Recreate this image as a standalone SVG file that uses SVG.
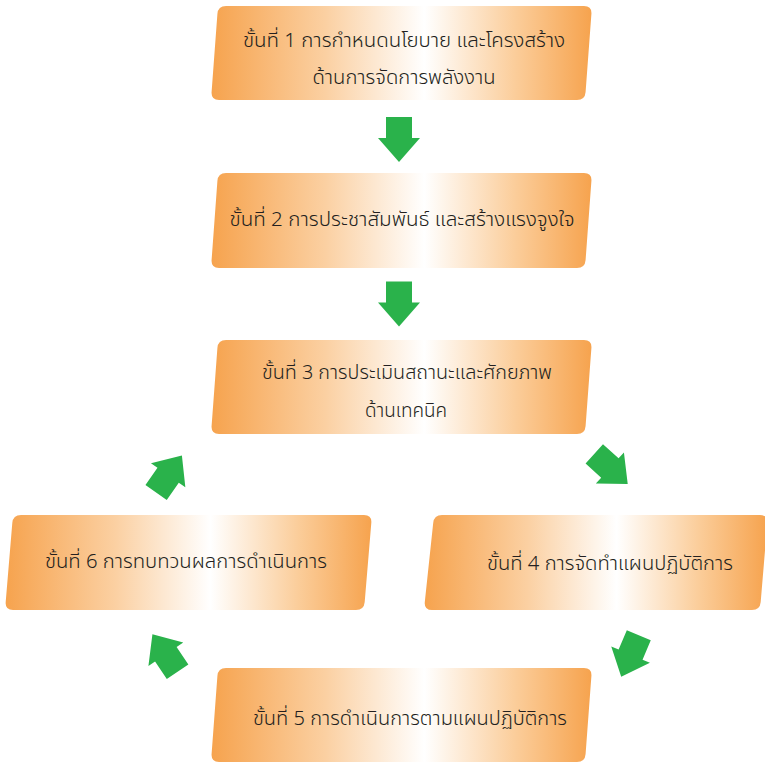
<svg xmlns="http://www.w3.org/2000/svg" width="765" height="763" viewBox="0 0 765 763">
<defs>
<linearGradient id="g" x1="0" y1="0" x2="1" y2="0">
<stop offset="0" stop-color="#F6A34E"/>
<stop offset="0.3" stop-color="#FBD0A2"/>
<stop offset="0.56" stop-color="#FFFFFF"/>
<stop offset="0.8" stop-color="#FBCD9A"/>
<stop offset="1" stop-color="#F6A34E"/>
</linearGradient>
<polygon id="arr" points="-13,-22.5 13,-22.5 13,-1.5 21,-1.5 0,22.5 -21,-1.5 -13,-1.5"/>
</defs>
<style>
.box{fill:url(#g);}
.t{font-family:"Noto Sans Thai","Noto Sans Thai UI","Noto Sans","DejaVu Sans",sans-serif;font-size:20px;font-weight:300;fill:#231F20;text-anchor:middle;}
.a{fill:#2AB24B;}
</style>
<rect width="765" height="763" fill="#FFFFFF"/>
<g id="step1">
<path class="box" d="M226,6 L584,6 Q592,6 591.4,14 L585.6,92 Q585,100 577,100 L219,100 Q211,100 211.6,92 L217.4,14 Q218,6 226,6 Z"/>
<text class="t" x="404" y="47" textLength="322" lengthAdjust="spacingAndGlyphs">ขั้นที่ 1 การกำหนดนโยบาย และโครงสร้าง</text>
<text class="t" x="404" y="84" textLength="183" lengthAdjust="spacingAndGlyphs">ด้านการจัดการพลังงาน</text>
</g>
<g id="step2">
<path class="box" d="M226,173 L584,173 Q592,173 591.4,181 L585.6,260 Q585,268 577,268 L219,268 Q211,268 211.6,260 L217.4,181 Q218,173 226,173 Z"/>
<text class="t" x="402" y="226" textLength="345" lengthAdjust="spacingAndGlyphs">ขั้นที่ 2 การประชาสัมพันธ์ และสร้างแรงจูงใจ</text>
</g>
<g id="step3">
<path class="box" d="M226,340 L584,340 Q592,340 591.4,348 L585.6,426 Q585,434 577,434 L219,434 Q211,434 211.6,426 L217.4,348 Q218,340 226,340 Z"/>
<text class="t" x="407" y="379" textLength="290" lengthAdjust="spacingAndGlyphs">ขั้นที่ 3 การประเมินสถานะและศักยภาพ</text>
<text class="t" x="406" y="417" textLength="82" lengthAdjust="spacingAndGlyphs">ด้านเทคนิค</text>
</g>
<g id="step4">
<path class="box" d="M442,515 L760,515 Q768,515 767.3,523 L760.7,602 Q760,610 752,610 L432,610 Q424,610 424.8,602 L433.2,523 Q434,515 442,515 Z"/>
<text class="t" x="610" y="570" textLength="246" lengthAdjust="spacingAndGlyphs">ขั้นที่ 4 การจัดทำแผนปฏิบัติการ</text>
</g>
<g id="step5">
<path class="box" d="M226,668 L584,668 Q592,668 591.4,676 L585.6,754 Q585,762 577,762 L219,762 Q211,762 211.6,754 L217.4,676 Q218,668 226,668 Z"/>
<text class="t" x="410" y="725" textLength="314" lengthAdjust="spacingAndGlyphs">ขั้นที่ 5 การดำเนินการตามแผนปฏิบัติการ</text>
</g>
<g id="step6">
<path class="box" d="M21,515 L364,515 Q372,515 371.3,523 L364.7,602 Q364,610 356,610 L13,610 Q5,610 5.7,602 L12.3,523 Q13,515 21,515 Z"/>
<text class="t" x="186" y="568" textLength="282" lengthAdjust="spacingAndGlyphs">ขั้นที่ 6 การทบทวนผลการดำเนินการ</text>
</g>
<g id="connectors">
<use href="#arr" class="a" transform="translate(399,139.5)"/>
<use href="#arr" class="a" transform="translate(399,304)"/>
<use href="#arr" class="a" transform="translate(611,469) rotate(-48)"/>
<use href="#arr" class="a" transform="translate(630,656) rotate(23)"/>
<use href="#arr" class="a" transform="translate(165,653) rotate(146)"/>
<use href="#arr" class="a" transform="translate(169,474) rotate(-145)"/>
</g>
</svg>
